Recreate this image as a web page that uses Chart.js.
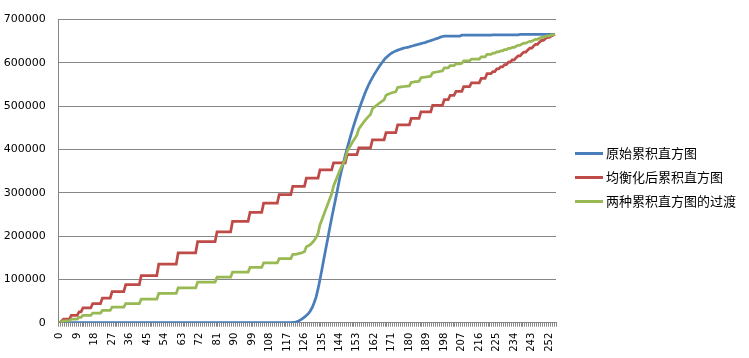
<!DOCTYPE html>
<html>
<head>
<meta charset="utf-8">
<script src="https://cdn.jsdelivr.net/npm/chart.js@4"></script>
<style>
  html, body { margin: 0; padding: 0; background: #fff; }
  #wrap { position: relative; width: 749px; height: 358px; }
  #legend { position: absolute; left: 575px; top: 0; font-family: "Noto Sans CJK SC", sans-serif; font-size: 13px; color: #000; }
  .item { position: absolute; left: 0; white-space: nowrap; height: 16px; line-height: 16px; }
  .item .ln { position: absolute; left: 0; top: 7px; width: 28px; height: 3px; }
  .item .tx { position: absolute; left: 31px; top: 0; }
</style>
</head>
<body>
<div id="wrap">
  <canvas id="histChart"></canvas>
  <div id="legend"></div>
</div>
<script>
// grey levels 0..255
var categories = Array.from({ length: 256 }, function (_, i) { return String(i); });
var tickLabels = ['0', '9', '18', '27', '36', '45', '54', '63', '72', '81', '90', '99', '108', '117', '126', '135', '144',
  '153', '162', '171', '180', '189', '198', '207', '216', '225', '234', '243', '252'];
var seriesNames = ['原始累积直方图', '均衡化后累积直方图', '两种累积直方图的过渡'];

// original cumulative histogram
var original = [
  0, 0, 0, 0, 0, 0, 0, 0, 0, 0, 0, 0, 0, 0, 0, 0,
  0, 0, 0, 0, 0, 0, 0, 0, 0, 0, 0, 0, 0, 0, 0, 0,
  0, 0, 0, 0, 0, 0, 0, 0, 0, 0, 0, 0, 0, 0, 0, 0,
  0, 0, 0, 0, 0, 0, 0, 0, 0, 0, 0, 0, 0, 0, 0, 0,
  0, 0, 0, 0, 0, 0, 0, 0, 0, 0, 0, 0, 0, 0, 0, 0,
  0, 0, 0, 0, 0, 0, 0, 0, 0, 0, 0, 0, 0, 0, 0, 0,
  0, 0, 0, 0, 0, 0, 0, 0, 0, 0, 0, 0, 0, 0, 0, 0,
  0, 0, 0, 0, 0, 0, 0, 0, 500, 1000, 2000, 4000, 6500, 9500, 13000, 16500,
  21000, 27000, 35000, 46000, 59000, 78000, 100000, 123000, 147000, 171000, 194000, 218000, 241000, 263000, 285000, 307000,
  330000, 350000, 368000, 386000, 403000, 419000, 435000, 450000, 464000, 478000, 491000, 504000, 516000, 528000, 539000, 549000,
  558000, 566000, 574000, 581000, 588000, 595000, 601000, 607000, 612000, 616000, 620000, 623000, 625500, 627500, 629500, 631000,
  632500, 634000, 635000, 636000, 637000, 638500, 639500, 641000, 642000, 643500, 644500, 646000, 647000, 648500, 650000, 651500,
  653000, 654500, 656000, 657500, 659500, 661000, 662000, 662000, 662000, 662000, 662000, 662000, 662000, 662000, 662000, 664000,
  664000, 664000, 664000, 664000, 664000, 664000, 664000, 664000, 664000, 664000, 664000, 664000, 664000, 664000, 664000, 665000,
  665000, 665000, 665000, 665000, 665000, 665000, 665000, 665000, 665000, 665000, 665000, 665000, 665000, 666000, 666000, 666000,
  666000, 666000, 666000, 666000, 666000, 666000, 666000, 666000, 666000, 666000, 666000, 666000, 666000, 666000, 666000, 666000
];

// cumulative histogram after equalization
var equalized = [
  0, 4000, 8000, 8000, 8000, 8000, 17000, 17000, 17000, 17000, 25000, 25000, 34000, 34000, 34000, 34000,
  34000, 44000, 44000, 44000, 44000, 44000, 57000, 57000, 57000, 57000, 57000, 72000, 72000, 72000, 72000, 72000,
  72000, 72000, 88000, 88000, 88000, 88000, 88000, 88000, 88000, 88000, 109000, 109000, 109000, 109000, 109000, 109000,
  109000, 109000, 109000, 135000, 135000, 135000, 135000, 135000, 135000, 135000, 135000, 135000, 135000, 161000, 161000, 161000,
  161000, 161000, 161000, 161000, 161000, 161000, 161000, 187000, 187000, 187000, 187000, 187000, 187000, 187000, 187000, 187000,
  187000, 210000, 210000, 210000, 210000, 210000, 210000, 210000, 210000, 234000, 234000, 234000, 234000, 234000, 234000, 234000,
  234000, 234000, 255000, 255000, 255000, 255000, 255000, 255000, 255000, 276000, 276000, 276000, 276000, 276000, 276000, 276000,
  276000, 296000, 296000, 296000, 296000, 296000, 296000, 296000, 315000, 315000, 315000, 315000, 315000, 315000, 315000, 334000,
  334000, 334000, 334000, 334000, 334000, 334000, 353000, 353000, 353000, 353000, 353000, 353000, 353000, 369000, 369000, 369000,
  369000, 369000, 369000, 369000, 388000, 388000, 388000, 388000, 388000, 388000, 404000, 404000, 404000, 404000, 404000, 404000,
  404000, 422000, 422000, 422000, 422000, 422000, 422000, 422000, 439000, 439000, 439000, 439000, 439000, 439000, 457000, 457000,
  457000, 457000, 457000, 457000, 457000, 472000, 472000, 472000, 472000, 472000, 487000, 487000, 487000, 487000, 487000, 487000,
  502000, 502000, 502000, 502000, 502000, 502000, 515000, 515000, 515000, 525000, 525000, 525000, 534000, 534000, 534000, 534000,
  545000, 545000, 545000, 545000, 554000, 554000, 554000, 554000, 554000, 564000, 564000, 564000, 575000, 575000, 575000, 580000,
  580000, 586000, 586000, 591000, 591000, 596000, 596000, 602000, 602000, 607000, 607000, 612000, 616000, 616000, 621000, 625000,
  625000, 630000, 634000, 634000, 639000, 643000, 643000, 648000, 652000, 652000, 656000, 659000, 659000, 662000, 664000, 666000
];

// transition between the two cumulative histograms
var transition = [
  0, 2000, 4000, 4000, 4000, 4000, 8500, 8500, 8500, 8500, 12500, 12500, 17000, 17000, 17000, 17000,
  17000, 22000, 22000, 22000, 22000, 22000, 28500, 28500, 28500, 28500, 28500, 36000, 36000, 36000, 36000, 36000,
  36000, 36000, 44000, 44000, 44000, 44000, 44000, 44000, 44000, 44000, 54500, 54500, 54500, 54500, 54500, 54500,
  54500, 54500, 54500, 67500, 67500, 67500, 67500, 67500, 67500, 67500, 67500, 67500, 67500, 80500, 80500, 80500,
  80500, 80500, 80500, 80500, 80500, 80500, 80500, 93500, 93500, 93500, 93500, 93500, 93500, 93500, 93500, 93500,
  93500, 105000, 105000, 105000, 105000, 105000, 105000, 105000, 105000, 117000, 117000, 117000, 117000, 117000, 117000, 117000,
  117000, 117000, 127500, 127500, 127500, 127500, 127500, 127500, 127500, 138000, 138000, 138000, 138000, 138000, 138000, 138000,
  138000, 148000, 148000, 148000, 148000, 148000, 148000, 148000, 157750, 158000, 158500, 159500, 160750, 162250, 164000, 175250,
  177500, 180500, 184500, 190000, 196500, 206000, 226500, 238000, 250000, 262000, 273500, 285500, 297000, 316000, 327000, 338000,
  349500, 359500, 368500, 377500, 395500, 403500, 411500, 419000, 426000, 433000, 447500, 454000, 460000, 466000, 471500, 476500,
  481000, 494000, 498000, 501500, 505000, 508500, 511500, 514500, 525500, 527500, 529500, 531000, 532250, 533250, 543250, 544000,
  544750, 545500, 546000, 546500, 547000, 555250, 555750, 556500, 557000, 557750, 565750, 566500, 567000, 567750, 568500, 569250,
  577500, 578250, 579000, 579750, 580750, 581500, 588500, 588500, 588500, 593500, 593500, 593500, 598000, 598000, 598000, 599000,
  604500, 604500, 604500, 604500, 609000, 609000, 609000, 609000, 609000, 614000, 614000, 614000, 619500, 619500, 619500, 622500,
  622500, 625500, 625500, 628000, 628000, 630500, 630500, 633500, 633500, 636000, 636000, 638500, 640500, 641000, 643500, 645500,
  645500, 648000, 650000, 650000, 652500, 654500, 654500, 657000, 659000, 659000, 661000, 662500, 662500, 664000, 665000, 666000
];

var colors = ['#4A7EBB', '#BE4B48', '#98B954'];

document.addEventListener("DOMContentLoaded", function () {

    var ctx = document.getElementById('histChart').getContext('2d');
    var histChart = new Chart(ctx, {
        type: 'line',
        data: {
            labels: categories,
            datasets: [
                { label: seriesNames[0], data: original, borderColor: colors[0], order: 3 },
                { label: seriesNames[1], data: equalized, borderColor: colors[1], order: 2 },
                { label: seriesNames[2], data: transition, borderColor: colors[2], order: 1 }
            ]
        },
        options: {
            responsive: true,
            maintainAspectRatio: false,
            animation: false,
            layout: { padding: { left: 0, right: 193, top: 11, bottom: 0 } },
            plugins: { legend: { display: false }, tooltip: { enabled: false } },
            elements: {
                point: { radius: 0 },
                line: { tension: 0, borderWidth: 2.75, fill: false }
            },
            scales: {
                x: {
                    offset: true,
                    grid: { display: true, drawOnChartArea: false, drawTicks: true, tickLength: 4, color: '#868686', offset: true },
                    border: { color: '#868686' },
                    ticks: {
                        autoSkip: false,
                        maxRotation: 90,
                        minRotation: 90,
                        padding: 6,
                        color: '#000',
                        font: { family: 'DejaVu Sans', size: 10 },
                        callback: function (v, i) {
                            return tickLabels.indexOf(categories[i]) >= 0 ? categories[i] : '';
                        }
                    },
                    afterFit: function (s) { s.height = 35.3; }
                },
                y: {
                    min: 0,
                    max: 700000,
                    grid: { color: '#868686', drawTicks: false },
                    border: { color: '#868686' },
                    ticks: {
                        stepSize: 100000,
                        padding: 13,
                        color: '#000',
                        font: { family: 'DejaVu Sans', size: 11 },
                        callback: function (v) { return String(v); }
                    },
                    afterFit: function (s) { s.width = 58.7; }
                }
            }
        }
    });

    // legend as plain text next to the plot
    var legend = document.getElementById('legend');
    var tops = [145, 169, 193];
    seriesNames.forEach(function (name, k) {
        var item = document.createElement('div');
        item.className = 'item';
        item.style.top = tops[k] + 'px';
        item.innerHTML = '<span class="ln" style="background:' + colors[k] + '"></span><span class="tx">' + name + '</span>';
        legend.appendChild(item);
    });

});
</script>
</body>
</html>
